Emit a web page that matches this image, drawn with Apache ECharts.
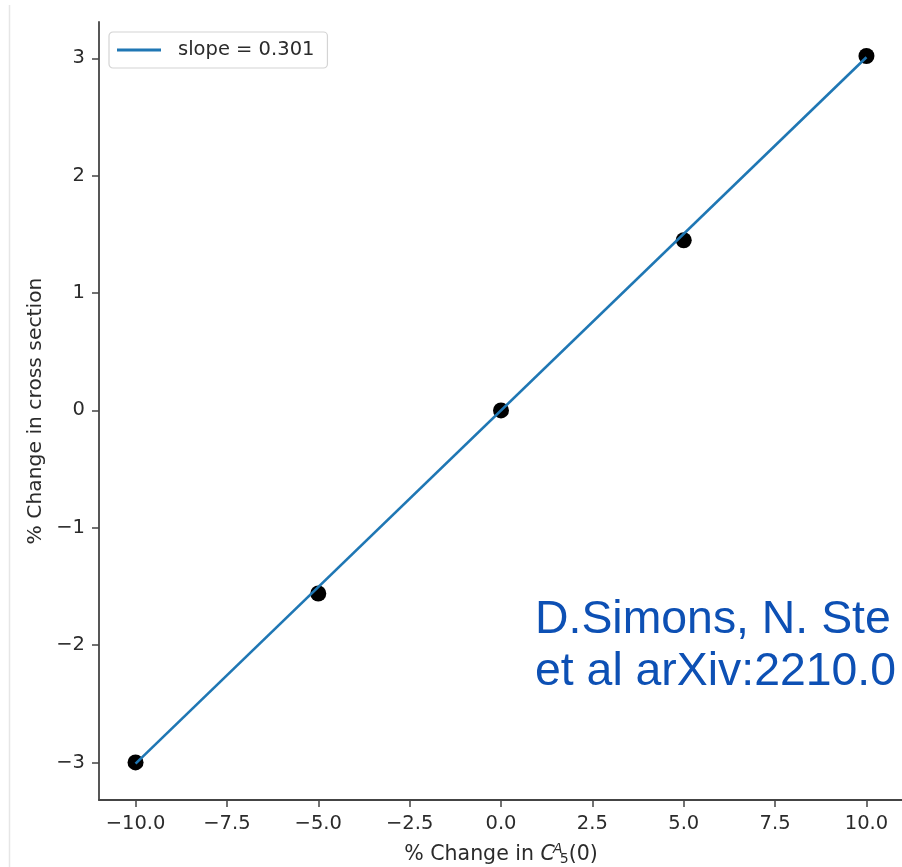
<!DOCTYPE html>
<html>
<head>
<meta charset="utf-8">
<script src="https://cdn.jsdelivr.net/npm/echarts@6/dist/echarts.min.js"></script>
<style>
  html, body { margin: 0; padding: 0; background: #ffffff; }
  #chart { width: 902px; height: 867px; }
</style>
</head>
<body>
<div id="chart"></div>
<script>
// Measured points: % change in C5A(0) vs % change in cross section
const changeInC5A = [-10, -5, 0, 5, 10];
const changeInXsec = [-3.0, -1.56, 0.0, 1.45, 3.02];

// Linear fit shown in the legend
const fitSlope = 0.301;
const fitIntercept = 0;
const fitRangeX = [-10, 10];

// Tick positions
const xTicks = [-10, -7.5, -5, -2.5, 0, 2.5, 5, 7.5, 10];
const yTicks = [-3, -2, -1, 0, 1, 2, 3];

const legendText = 'slope = ' + fitSlope.toFixed(3);
const creditLines = ['D.Simons, N. Ste', 'et al arXiv:2210.0'];

const pointData = changeInC5A.map((x, i) => [x, changeInXsec[i]]);
const fitData = fitRangeX.map(x => [x, fitSlope * x + fitIntercept]);

const minus = s => String(s).replace('-', '\u2212');
const tickFont = 'DejaVu Sans';
const inkColor = '#2b2b2b';
const spineColor = '#444444';

const chart = echarts.init(document.getElementById('chart'), null, { renderer: 'canvas' });

chart.setOption({
  backgroundColor: '#ffffff',
  animation: false,
  grid: {
    left: 99, top: 22, width: 804, height: 778,
    containLabel: false,
    outerBoundsMode: 'none'
  },
  legend: {
    left: 109,
    top: 32,
    data: [{ name: legendText, icon: 'rect' }],
    itemWidth: 44,
    itemHeight: 3,
    itemGap: 0,
    padding: [8, 13, 8, 8],
    borderColor: '#d4d4d4',
    borderWidth: 1.2,
    borderRadius: 4,
    backgroundColor: 'rgba(255,255,255,0.85)',
    textStyle: { fontFamily: tickFont, fontSize: 19.5, color: inkColor, padding: [0, 0, 0, 12] }
  },
  xAxis: {
    type: 'value',
    min: -11,
    max: 11,
    name: '{t|% Change in }{c|C}{sup|A}{sub|5}{t|(0)}',
    nameLocation: 'middle',
    nameGap: 41,
    nameTextStyle: {
      rich: {
        t: { fontFamily: tickFont, fontSize: 20.5, color: inkColor, lineHeight: 28 },
        c: { fontFamily: tickFont, fontSize: 20.5, fontStyle: 'italic', color: inkColor, lineHeight: 28 },
        sup: { fontFamily: tickFont, fontSize: 14, fontStyle: 'italic', color: inkColor, width: 0.01, verticalAlign: 'top', lineHeight: 28, padding: [1, 0, 9, 3] },
        sub: { fontFamily: tickFont, fontSize: 14, color: inkColor, verticalAlign: 'bottom', lineHeight: 28, padding: [0, 0, 3, 2] }
      }
    },
    axisLine: { show: true, onZero: false, lineStyle: { color: spineColor, width: 1.8 } },
    axisTick: { show: true, length: 7, customValues: xTicks, lineStyle: { color: spineColor, width: 1.5 } },
    axisLabel: {
      customValues: xTicks,
      margin: 14,
      fontFamily: tickFont,
      fontSize: 19.5,
      color: inkColor,
      formatter: v => minus(Number(v).toFixed(1))
    },
    splitLine: { show: false }
  },
  yAxis: {
    type: 'value',
    min: -3.32,
    max: 3.31,
    name: '% Change in cross section',
    nameLocation: 'middle',
    nameGap: 51,
    nameTextStyle: { fontFamily: tickFont, fontSize: 20.3, color: inkColor },
    axisLine: { show: true, onZero: false, lineStyle: { color: spineColor, width: 1.8 } },
    axisTick: { show: true, length: 7, customValues: yTicks, lineStyle: { color: spineColor, width: 1.5 } },
    axisLabel: {
      customValues: yTicks,
      margin: 14,
      fontFamily: tickFont,
      fontSize: 19.5,
      color: inkColor,
      formatter: v => minus(v)
    },
    splitLine: { show: false }
  },
  series: [
    {
      name: 'points',
      type: 'scatter',
      data: pointData,
      symbol: 'circle',
      symbolSize: 16,
      itemStyle: { color: '#000000', opacity: 1 },
      z: 2
    },
    {
      name: legendText,
      type: 'line',
      data: fitData,
      showSymbol: false,
      symbol: 'none',
      lineStyle: { color: '#1f77b4', width: 2.6 },
      itemStyle: { color: '#1f77b4' },
      z: 3
    }
  ],
  graphic: [
    {
      type: 'line',
      shape: { x1: 9.5, y1: 5, x2: 9.5, y2: 867 },
      style: { stroke: '#e6e6e6', lineWidth: 1.5 },
      silent: true
    },
    {
      type: 'text',
      left: 535,
      top: 597,
      style: {
        text: creditLines[0],
        font: '46.4px "Liberation Sans", Arial, sans-serif',
        fill: '#0d50b4'
      },
      silent: true
    },
    {
      type: 'text',
      left: 535,
      top: 649,
      style: {
        text: creditLines[1],
        font: '46.4px "Liberation Sans", Arial, sans-serif',
        fill: '#0d50b4'
      },
      silent: true
    }
  ]
});
</script>
</body>
</html>
